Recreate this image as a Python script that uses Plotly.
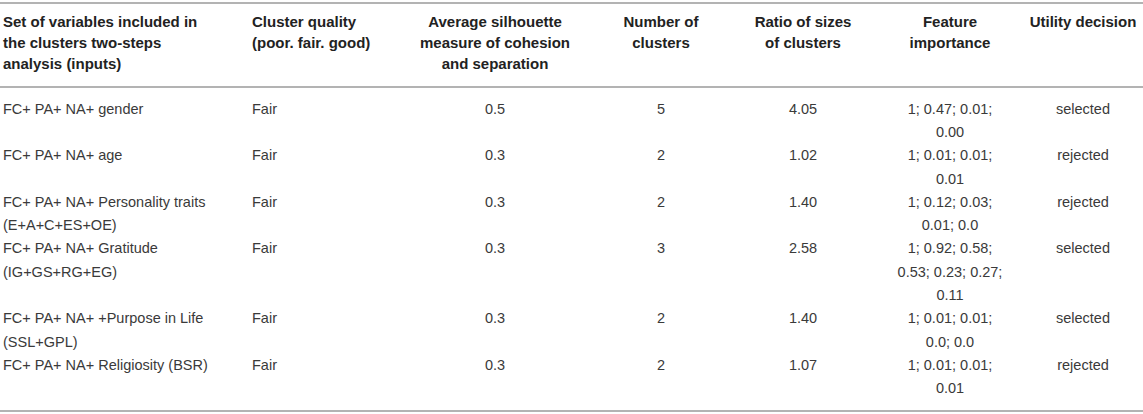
import plotly.graph_objects as go

# Table content (each cell may hold several lines split with "|")
headers = [
    "Set of variables included in|the clusters two-steps|analysis (inputs)",
    "Cluster quality|(poor. fair. good)",
    "Average silhouette|measure of cohesion|and separation",
    "Number of|clusters",
    "Ratio of sizes|of clusters",
    "Feature|importance",
    "Utility decision",
]
variables = [
    "FC+ PA+ NA+ gender",
    "FC+ PA+ NA+ age",
    "FC+ PA+ NA+ Personality traits|(E+A+C+ES+OE)",
    "FC+ PA+ NA+ Gratitude|(IG+GS+RG+EG)",
    "FC+ PA+ NA+ +Purpose in Life|(SSL+GPL)",
    "FC+ PA+ NA+ Religiosity (BSR)",
]
quality = ["Fair", "Fair", "Fair", "Fair", "Fair", "Fair"]
silhouette = [0.5, 0.3, 0.3, 0.3, 0.3, 0.3]
n_clusters = [5, 2, 2, 3, 2, 2]
size_ratio = [4.05, 1.02, 1.40, 2.58, 1.40, 1.07]
feature_importance = [
    "1; 0.47; 0.01;|0.00",
    "1; 0.01; 0.01;|0.01",
    "1; 0.12; 0.03;|0.01; 0.0",
    "1; 0.92; 0.58;|0.53; 0.23; 0.27;|0.11",
    "1; 0.01; 0.01;|0.0; 0.0",
    "1; 0.01; 0.01;|0.01",
]
decision = ["selected", "rejected", "rejected", "selected", "selected", "rejected"]

columns = [
    variables,
    quality,
    [f"{v:.1f}" for v in silhouette],
    [str(v) for v in n_clusters],
    [f"{v:.2f}" for v in size_ratio],
    feature_importance,
    decision,
]

W, H = 1143, 414
col_x = [3, 252, 495, 661, 803, 950, 1083]
col_pos = ["middle right", "middle right"] + ["middle center"] * 5
font_family = "Liberation Sans, Arial, sans-serif"

header_top, header_step = 23, 21
body_top, body_step = 110, 23.3
header_rule, top_rule, bottom_rule = 87, 3, 411

fig = go.Figure()

# header cells
for c, head in enumerate(headers):
    lines = head.split("|")
    fig.add_trace(go.Scatter(
        x=[col_x[c]] * len(lines),
        y=[header_top + i * header_step for i in range(len(lines))],
        text=[f"<b>{t}</b>" for t in lines],
        mode="text",
        textposition=col_pos[c],
        textfont=dict(size=15, color="#222222", family=font_family),
        hoverinfo="skip",
        showlegend=False,
    ))

# body cells, rows stacked by the number of lines they need
line_idx = 0
for r in range(len(variables)):
    n_lines = max(len(col[r].split("|")) for col in columns)
    for c, col in enumerate(columns):
        lines = col[r].split("|")
        fig.add_trace(go.Scatter(
            x=[col_x[c]] * len(lines),
            y=[body_top + (line_idx + i) * body_step for i in range(len(lines))],
            text=lines,
            mode="text",
            textposition=col_pos[c],
            textfont=dict(size=14.5, color="#3a3a3a", family=font_family),
            hoverinfo="skip",
            showlegend=False,
        ))
    line_idx += n_lines

for yy in (top_rule, header_rule, bottom_rule):
    fig.add_shape(type="line", x0=0, x1=W, y0=yy, y1=yy, xref="x", yref="y",
                  line=dict(color="#b3b3b3", width=2))

fig.update_layout(
    width=W,
    height=H,
    margin=dict(l=0, r=0, t=0, b=0),
    paper_bgcolor="white",
    plot_bgcolor="white",
    xaxis=dict(range=[0, W], visible=False, fixedrange=True),
    yaxis=dict(range=[H, 0], visible=False, fixedrange=True),
)

# drop the page's default body margin so the table sits at the window's corner
fig.write_html(
    "out.html",
    config={"displayModeBar": False},
    post_script="document.body.style.margin = '0';",
)
